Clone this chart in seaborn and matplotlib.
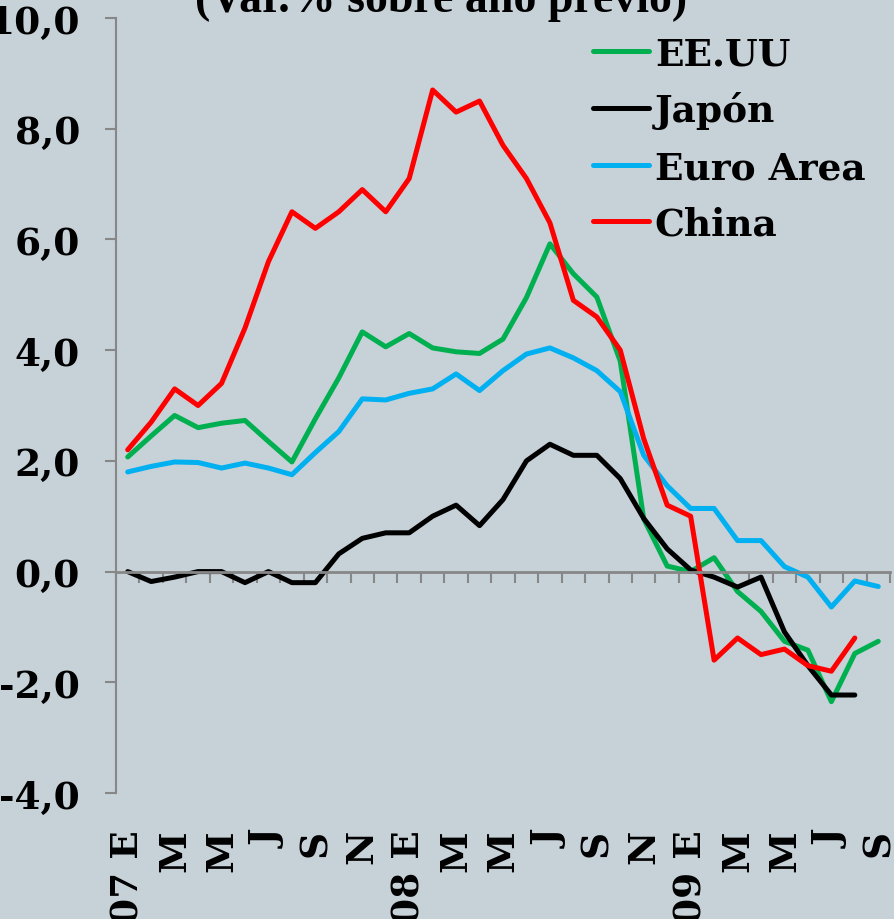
import numpy as np
import pandas as pd
import matplotlib
matplotlib.use("Agg")
import matplotlib.pyplot as plt
import seaborn as sns

# monthly data, Jan 2007 .. Sep 2009 (var.% over previous year)
meses = list(range(33))
etiquetas = ["07 E", "M", "M", "J", "S", "N",
             "08 E", "M", "M", "J", "S", "N",
             "09 E", "M", "M", "J", "S"]
nan = np.nan
eeuu = [2.07, 2.45, 2.82, 2.6, 2.68, 2.73, 2.35, 1.98, 2.76, 3.5, 4.33, 4.06,
        4.3, 4.04, 3.97, 3.94, 4.2, 4.95, 5.92, 5.38, 4.96, 3.8, 0.95, 0.1,
        0.0, 0.25, -0.36, -0.72, -1.26, -1.42, -2.35, -1.48, -1.26]
japon = [0.0, -0.18, -0.1, 0.0, 0.0, -0.2, 0.0, -0.2, -0.2, 0.32, 0.6, 0.7,
         0.7, 1.0, 1.2, 0.83, 1.3, 2.0, 2.3, 2.1, 2.1, 1.68, 0.96, 0.41,
         0.03, -0.1, -0.28, -0.1, -1.09, -1.7, -2.23, -2.23, nan]
euro = [1.8, 1.9, 1.98, 1.97, 1.87, 1.96, 1.87, 1.75, 2.15, 2.53, 3.12, 3.1,
        3.22, 3.3, 3.57, 3.27, 3.63, 3.93, 4.04, 3.86, 3.63, 3.25, 2.1, 1.55,
        1.14, 1.14, 0.56, 0.56, 0.09, -0.1, -0.64, -0.17, -0.27]
china = [2.2, 2.7, 3.3, 3.0, 3.4, 4.4, 5.6, 6.5, 6.2, 6.5, 6.9, 6.5,
         7.1, 8.7, 8.3, 8.5, 7.7, 7.1, 6.3, 4.9, 4.6, 4.0, 2.4, 1.2,
         1.0, -1.6, -1.2, -1.5, -1.4, -1.7, -1.8, -1.2, nan]
series = ["EE.UU", "Japón", "Euro Area", "China"]
colores = ["#00B050", "#000000", "#00B0F0", "#FF0000"]
yticks = [-4, -2, 0, 2, 4, 6, 8, 10]

df = pd.concat([
    pd.DataFrame({"mes": meses, "valor": v, "serie": s})
    for s, v in zip(series, [eeuu, japon, euro, china])
]).dropna()

bg = "#C6D1D8"
gris = "#878787"
plt.rcParams["font.family"] = ["DejaVu Serif"]
plt.rcParams["font.weight"] = "bold"

fig = plt.figure(figsize=(8.95, 9.2), dpi=100, facecolor=bg)
ax = fig.add_axes([116 / 895, 1 - 794 / 920, (890 - 116) / 895, (794 - 19) / 920])
ax.set_facecolor(bg)

sns.lineplot(data=df, x="mes", y="valor", hue="serie", hue_order=series,
             palette=colores, linewidth=3.6, sort=False, ax=ax)
for ln in ax.lines:
    ln.set_solid_capstyle("round")
    ln.set_solid_joinstyle("round")

ax.set_xlim(-0.5, 32.5)
ax.set_ylim(-4, 10)
ax.set_xlabel("")
ax.set_ylabel("")

for s in ["top", "right"]:
    ax.spines[s].set_visible(False)
ax.spines["left"].set_color(gris)
ax.spines["left"].set_linewidth(1.5)
ax.spines["bottom"].set_position(("data", 0))
ax.spines["bottom"].set_color(gris)
ax.spines["bottom"].set_linewidth(2)

ax.set_yticks(yticks)
ax.set_yticklabels([f"{t},0" for t in yticks])
ax.tick_params(axis="y", length=8, width=1.5, color=gris, pad=18,
               labelsize=27)
for lab in ax.get_yticklabels():
    lab.set_fontweight("bold")

ax.set_xticks([])
ax.set_xticks(np.arange(-0.5, 33, 1), minor=True)
ax.tick_params(axis="x", which="minor", length=8, width=1.5, color=gris,
               direction="out")

# month labels sit below the plot area, not on the zero line
sec = ax.secondary_xaxis(0)
sec.set_xticks(list(range(0, 33, 2)))
sec.set_xticklabels(etiquetas, rotation=90, fontsize=27, fontweight="bold")
sec.tick_params(length=0, pad=26)
sec.spines["bottom"].set_visible(False)

h, l = ax.get_legend_handles_labels()
ax.legend(h, l, loc="upper left", bbox_to_anchor=(593 / 895, 1 - 36 / 920),
          bbox_transform=fig.transFigure, frameon=False,
          prop={"family": "DejaVu Serif", "weight": "bold", "size": 27},
          handlelength=1.5, handletextpad=0.15, labelspacing=0.52,
          borderpad=0, borderaxespad=0)

fig.text(441 / 895, 1 - 12 / 920, "(Var.% sobre año previo)", ha="center",
         va="baseline", fontsize=33, fontweight="bold",
         family="Liberation Serif")

fig.savefig("out.png", dpi=100, facecolor=bg)
